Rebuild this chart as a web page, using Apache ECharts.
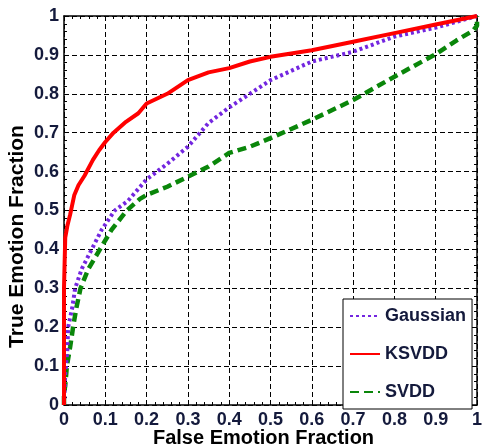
<!DOCTYPE html>
<html>
<head>
<meta charset="utf-8">
<script src="https://cdn.jsdelivr.net/npm/echarts@6/dist/echarts.min.js"></script>
<style>
  html, body { margin: 0; padding: 0; background: #fff; }
  #chart { width: 482px; height: 448px; }
</style>
</head>
<body>
<div id="chart"></div>
<script>
// ROC data
var gaussX = [0, 0.003, 0.008, 0.01, 0.02, 0.027, 0.043, 0.067, 0.091, 0.123, 0.155, 0.2, 0.25, 0.3, 0.35, 0.4, 0.45, 0.5, 0.6, 0.7, 0.8, 0.9, 1]
var gaussY = [0, 0.08, 0.14, 0.2, 0.25, 0.3, 0.35, 0.4, 0.45, 0.5, 0.525, 0.58, 0.62, 0.664, 0.725, 0.765, 0.8, 0.835, 0.883, 0.908, 0.947, 0.97, 1]

var ksvddX = [0, 0, 0.003, 0.008, 0.015, 0.025, 0.035, 0.05, 0.07, 0.085, 0.1, 0.12, 0.15, 0.18, 0.2, 0.25, 0.3, 0.35, 0.4, 0.45, 0.5, 0.6, 0.7, 0.8, 0.9, 1]
var ksvddY = [0, 0.3, 0.43, 0.46, 0.49, 0.54, 0.565, 0.59, 0.63, 0.655, 0.676, 0.7, 0.728, 0.75, 0.775, 0.8, 0.835, 0.855, 0.866, 0.883, 0.895, 0.912, 0.934, 0.956, 0.978, 1]

var svddX = [0, 0, 0.003, 0.007, 0.015, 0.022, 0.03, 0.04, 0.059, 0.087, 0.115, 0.152, 0.184, 0.2, 0.25, 0.3, 0.35, 0.4, 0.45, 0.5, 0.6, 0.7, 0.8, 0.9, 0.95, 0.99, 1, 1]
var svddY = [0, 0.03, 0.05, 0.1, 0.15, 0.2, 0.25, 0.3, 0.35, 0.4, 0.45, 0.5, 0.53, 0.54, 0.561, 0.587, 0.613, 0.648, 0.664, 0.686, 0.733, 0.784, 0.844, 0.902, 0.937, 0.962, 0.975, 1]

var seriesNames = ['Gaussian', 'KSVDD', 'SVDD']

function pairs(xs, ys) {
  return xs.map(function (x, i) { return [x, ys[i]] })
}

var labelColor = '#141a3c'
var font = 'Arial, "Liberation Sans", sans-serif'

function mainAxis(pos) {
  return {
    type: 'value',
    position: pos,
    min: 0,
    max: 1,
    interval: 0.1,
    axisLine: { show: true, onZero: false, lineStyle: { color: '#000', width: 1.5 } },
    axisTick: { show: true, inside: true, length: 5, lineStyle: { color: '#000' } },
    minorTick: { show: true, splitNumber: 5, length: 3, lineStyle: { color: '#000' } },
    splitLine: { show: true, lineStyle: { color: '#000', width: 1, type: [5, 3] } },
    axisLabel: {
      color: labelColor,
      fontSize: 18,
      fontWeight: 'bold',
      fontFamily: font,
      margin: pos === 'left' ? 5 : 6,
      showMinLabel: true,
      showMaxLabel: true
    }
  }
}

function mirrorAxis(pos) {
  return {
    type: 'value',
    position: pos,
    min: 0,
    max: 1,
    interval: 0.1,
    axisLine: { show: true, onZero: false, lineStyle: { color: '#000', width: 1.5 } },
    axisTick: { show: true, inside: true, length: 5, lineStyle: { color: '#000' } },
    minorTick: { show: true, splitNumber: 5, length: 3, lineStyle: { color: '#000' } },
    splitLine: { show: false },
    axisLabel: { show: false }
  }
}

var xMain = mainAxis('bottom')
xMain.name = 'False Emotion Fraction'
xMain.nameLocation = 'middle'
xMain.nameGap = 23
xMain.nameMoveOverlap = false
xMain.nameTextStyle = { color: '#000', fontSize: 20, fontWeight: 'bold', fontFamily: font, padding: [0, 14, 0, 0] }

var yMain = mainAxis('left')
yMain.name = 'True Emotion Fraction'
yMain.nameLocation = 'middle'
yMain.nameGap = 36
yMain.nameMoveOverlap = false
yMain.nameTextStyle = { color: '#000', fontSize: 21, fontWeight: 'bold', fontFamily: font, padding: [0, 52, 0, 0] }

var chart = echarts.init(document.getElementById('chart'))
chart.setOption({
  animation: false,
  backgroundColor: '#fff',
  grid: { left: 64, right: 5, top: 16, bottom: 43, containLabel: false, outerBoundsMode: 'none' },
  legend: {
    data: seriesNames,
    orient: 'vertical',
    left: 343,
    top: 299,
    padding: [8, 6, 8, 6],
    itemWidth: 30,
    itemHeight: 14,
    itemGap: 20,
    backgroundColor: '#fff',
    borderColor: '#000',
    borderWidth: 1,
    itemStyle: { opacity: 0, borderWidth: 0 },
    textStyle: { color: labelColor, fontSize: 18, fontWeight: 'bold', fontFamily: font }
  },
  xAxis: [xMain, mirrorAxis('top')],
  yAxis: [yMain, mirrorAxis('right')],
  series: [
    {
      name: 'Gaussian',
      type: 'line',
      symbol: 'none',
      data: pairs(gaussX, gaussY),
      lineStyle: { color: '#7326e0', width: 4, type: [3, 3] },
      itemStyle: { color: '#7326e0' },
      z: 3
    },
    {
      name: 'KSVDD',
      type: 'line',
      symbol: 'none',
      data: pairs(ksvddX, ksvddY),
      lineStyle: { color: '#ff0000', width: 4 },
      itemStyle: { color: '#ff0000' },
      z: 4
    },
    {
      name: 'SVDD',
      type: 'line',
      symbol: 'none',
      data: pairs(svddX, svddY),
      lineStyle: { color: '#0a860a', width: 4.5, type: [9, 5] },
      itemStyle: { color: '#0a860a' },
      z: 2
    }
  ]
})
</script>
</body>
</html>
